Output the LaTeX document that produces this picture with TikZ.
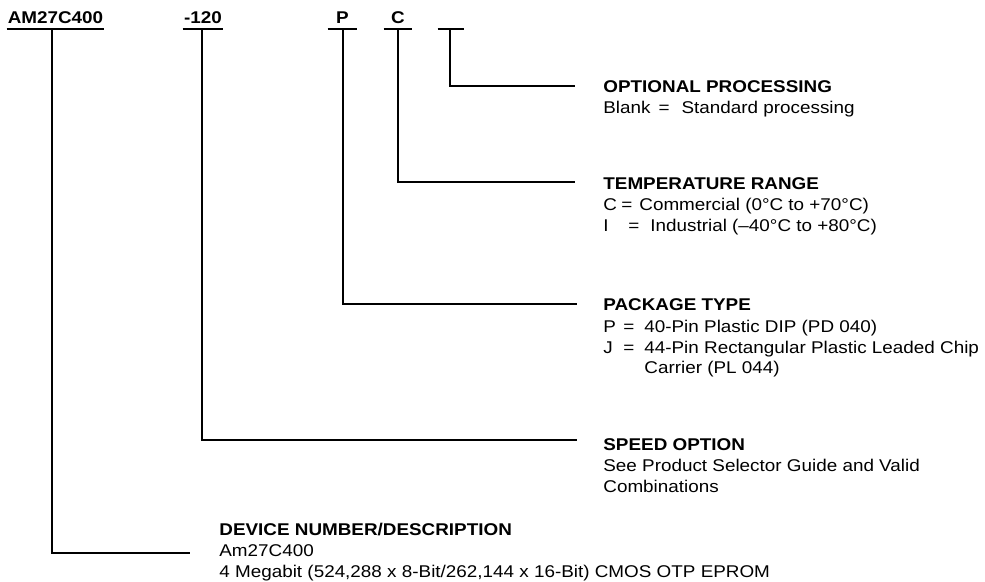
\documentclass[tikz,border=0pt]{standalone}
\usepackage{fontspec}
\setmainfont{Liberation Sans}[FakeStretch=1.11]
\usetikzlibrary{positioning}

\begin{document}
\begin{tikzpicture}
    [x=0.5pt,y=-0.5pt,font=\fontsize{8.5}{10.5}\selectfont,
     code/.style={anchor=base,font=\fontsize{8.5}{10.5}\selectfont\bfseries,
                  inner xsep=0pt,inner ysep=2.5pt,text height=6pt,text depth=0pt},
     desc/.style={anchor=base west,align=left,inner sep=0pt},
     lead/.style={line width=1pt}]

    \useasboundingbox (0,0) rectangle (985,582);

    \node[code,minimum width=48.5pt] (am) at (55.5,24) {AM27C400};
    \node[code,minimum width=20pt] (spd) at (203,24) {-120};
    \node[code,minimum width=14.5pt] (pkg) at (342.5,24) {P};
    \node[code,minimum width=14pt] (tmp) at (398,24) {C};
    \node[code,minimum width=13pt] (opt) at (451,24) {};

    \draw[lead] (am.south west) -- (am.south east);
    \draw[lead] (spd.south west) -- (spd.south east);
    \draw[lead] (pkg.south west) -- (pkg.south east);
    \draw[lead] (tmp.south west) -- (tmp.south east);
    \draw[lead] (opt.south west) -- (opt.south east);

    \node[desc] (optd) at (603,114) {\textbf{OPTIONAL PROCESSING}\\
        Blank\hspace{4pt}=\hspace{6pt}Standard processing};
    \node[desc] (tmpd) at (603,232) {\textbf{TEMPERATURE RANGE}\\
        \makebox[9pt][l]{C}=\hspace{3.5pt}Commercial (0°C to +70°C)\\
        \makebox[12.5pt][l]{I}=\hspace{5.5pt}Industrial (–40°C to +80°C)};
    \node[desc] (pkgd) at (603,374) {\textbf{PACKAGE TYPE}\\
        \makebox[10pt][l]{P}\makebox[10.5pt][l]{=}40-Pin Plastic DIP (PD 040)\\
        \makebox[10pt][l]{J}\makebox[10.5pt][l]{=}44-Pin Rectangular Plastic Leaded Chip\\
        \hspace*{20.5pt}Carrier (PL 044)};
    \node[desc] (spdd) at (603,493) {\textbf{SPEED OPTION}\\
        See Product Selector Guide and Valid\\
        Combinations};
    \node[desc] (amd) at (219,577) {\textbf{DEVICE NUMBER/DESCRIPTION}\\
        Am27C400\\
        4 Megabit (524,288 x 8-Bit/262,144 x 16-Bit) CMOS OTP EPROM};

    \coordinate (optend) at (575,86);
    \coordinate (tmpend) at (575,182);
    \coordinate (pkgend) at (577,304);
    \coordinate (spdend) at (577,440);
    \coordinate (amend) at (190,553);

    \draw[lead] ([xshift=-1.75pt]am.south) |- (amend);
    \draw[lead] ([xshift=-0.5pt]spd.south) |- (spdend);
    \draw[lead] (pkg.south) |- (pkgend);
    \draw[lead] (tmp.south) |- (tmpend);
    \draw[lead] ([xshift=-0.5pt]opt.south) |- (optend);

\end{tikzpicture}
\end{document}
